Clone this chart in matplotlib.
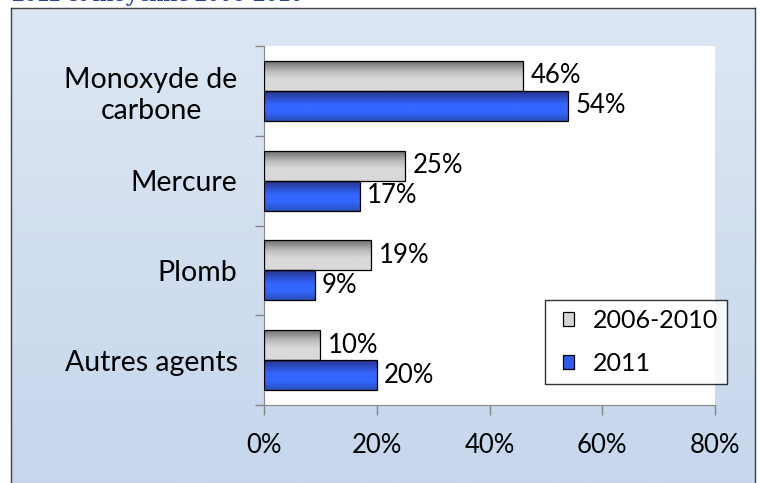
import numpy as np
import matplotlib
matplotlib.use("Agg")
import matplotlib.pyplot as plt
from matplotlib.patches import Patch
from matplotlib.colors import LinearSegmentedColormap

categories = ["Monoxyde de\ncarbone", "Mercure", "Plomb", "Autres agents"]
series_names = ["2006-2010", "2011"]
values_avg = [46, 25, 19, 10]
values_2011 = [54, 17, 9, 20]
xticks = [0, 20, 40, 60, 80]
xtick_labels = ["0%", "20%", "40%", "60%", "80%"]
title_text = "2011 et moyenne 2006-2010"

W, H = 760, 483
fig = plt.figure(figsize=(W / 100, H / 100), dpi=100)
fig.patch.set_facecolor("white")
FONT = ["Lato", "DejaVu Sans"]
FS_CAT = 20.5
FS_NUM = 18.5

# outer chart area with gradient
bg = fig.add_axes([11 / W, 0, 744 / W, 1 - 8 / H])
grad = np.linspace(0, 1, 256).reshape(-1, 1)
bg_cmap = LinearSegmentedColormap.from_list("bg", ["#dde7f3", "#c6d6ec"])
bg.imshow(grad, aspect="auto", cmap=bg_cmap, extent=[0, 1, 0, 1], origin="upper")
bg.set_xlim(0, 1); bg.set_ylim(0, 1)
bg.set_xticks([]); bg.set_yticks([])
for s in ["left", "top", "right"]:
    bg.spines[s].set_color("#404040"); bg.spines[s].set_linewidth(1.0)
bg.spines["bottom"].set_visible(False)

# title (cropped by the top edge, as in the reference)
fig.text(12 / W, 1 + 6 / H, title_text, ha="left", va="center",
         family=["Liberation Serif", "DejaVu Serif"], fontweight="bold",
         fontsize=18, color="#2b3f9e")

ax = fig.add_axes([264 / W, 1 - 405 / H, (715 - 264) / W, (405 - 46) / H])
ax.set_facecolor("white")
y = np.arange(len(categories))
h = 0.334
bars_a = ax.barh(y - h / 2, values_avg, height=h, color="#d4d4d4", edgecolor="black", linewidth=0.9, zorder=3)
bars_b = ax.barh(y + h / 2, values_2011, height=h, color="#2f5cf0", edgecolor="black", linewidth=0.9, zorder=3)

gray_cmap = LinearSegmentedColormap.from_list("g", [(0, "#6e6e6e"), (0.35, "#bdbdbd"), (0.6, "#d9d9d9"), (1, "#d9d9d9")])
blue_cmap = LinearSegmentedColormap.from_list("b", [(0, "#26338a"), (0.45, "#3366ff"), (0.7, "#3366ff"), (1, "#2a4fb8")])
for bars, cm in [(bars_a, gray_cmap), (bars_b, blue_cmap)]:
    for p in bars:
        x0, y0, w, hh = p.get_x(), p.get_y(), p.get_width(), p.get_height()
        im = ax.imshow(grad, aspect="auto", cmap=cm, extent=[x0, x0 + w, y0 + hh, y0],
                       origin="upper", zorder=3.5)
        im.set_clip_path(p)
    for p in bars:
        p.set_facecolor("none"); p.set_zorder(4)

for bars, vals in [(bars_a, values_avg), (bars_b, values_2011)]:
    for p, v in zip(bars, vals):
        ax.text(v + 1.3, p.get_y() + p.get_height() / 2, f"{v}%", va="center", ha="left",
                family=FONT, fontsize=FS_NUM, color="black", zorder=5)

ax.set_xlim(0, 80)
ax.set_ylim(len(categories) - 0.5, -0.5)
ax.set_xticks(xticks)
ax.set_xticklabels(xtick_labels, family=FONT, fontsize=FS_NUM)
ax.set_yticks(y)
ax.set_yticklabels(categories, family=FONT, fontsize=FS_CAT, multialignment="center")
ax.set_yticks(np.arange(-0.5, len(categories), 1), minor=True)
ax.tick_params(axis="y", which="major", length=0, pad=19)
ax.tick_params(axis="y", which="minor", length=6.5, color="#868686", width=1)
ax.tick_params(axis="x", length=7, color="#868686", width=1, pad=13)
for s in ["top", "right"]:
    ax.spines[s].set_visible(False)
for s in ["left", "bottom"]:
    ax.spines[s].set_color("#868686")

handles = [Patch(facecolor="#d4d4d4", edgecolor="black", linewidth=0.9),
           Patch(facecolor="#2f5cf0", edgecolor="black", linewidth=0.9)]
leg = fig.legend(handles, series_names, loc="upper left",
                 bbox_to_anchor=(545 / W, 1 - 300 / H), bbox_transform=fig.transFigure,
                 prop={"family": FONT, "size": 18}, frameon=True, fancybox=False,
                 edgecolor="black", handlelength=0.8, handleheight=0.45,
                 handletextpad=0.75, labelspacing=0.8, borderpad=0.35, borderaxespad=0)
leg.get_frame().set_linewidth(1.0)
# keep the legend markers square while the handle box is wider (offsets the marker)
for hp in leg.legend_handles:
    bb_w = hp.get_width()
    hp.set_x(hp.get_x() + bb_w * 0.44)
    hp.set_width(bb_w * 0.56)

fig.savefig("out.png", dpi=100)
